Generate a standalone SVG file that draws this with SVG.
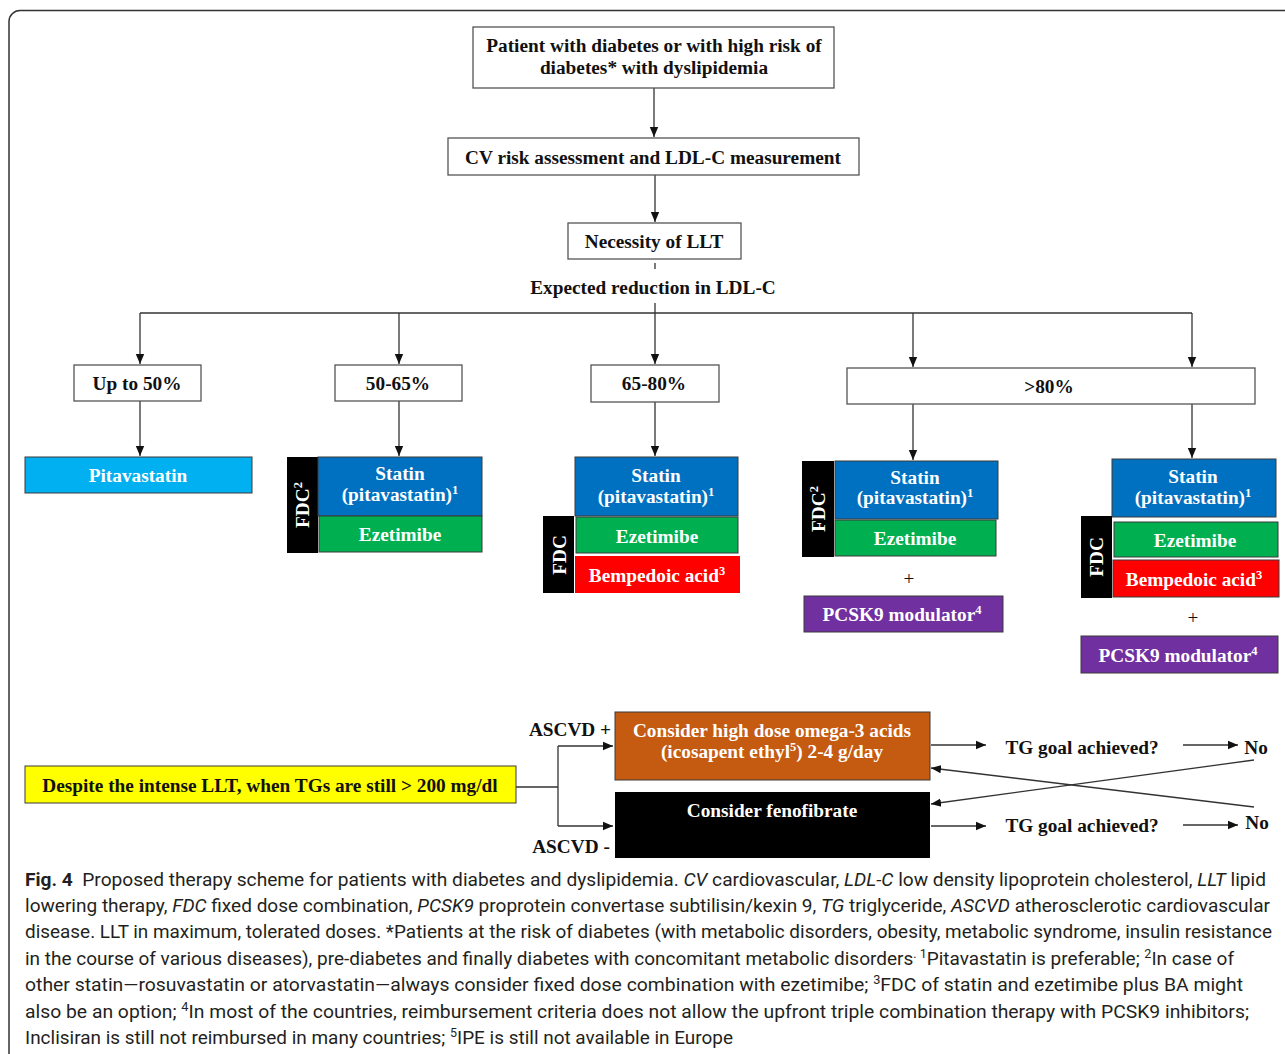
<svg xmlns="http://www.w3.org/2000/svg" width="1285" height="1054" viewBox="0 0 1285 1054">
<style>
.t{font-family:"Liberation Serif","Times New Roman",serif;font-weight:bold;font-size:19.3px;fill:#111;text-anchor:middle}
.w{fill:#fff}
.box{fill:#fff;stroke:#555;stroke-width:1.3}
.cb{stroke:#3a3a3a;stroke-width:1}
.ln{stroke:#333;stroke-width:1.3;fill:none}
.ar{stroke:#333;stroke-width:1.3;fill:none;marker-end:url(#ah)}
.cap{font-family:Roboto,"Noto Sans",sans-serif;font-size:19px;fill:#231f20}
.sup{font-size:12.5px}
</style>
<defs>
<marker id="ah" markerUnits="userSpaceOnUse" markerWidth="10" markerHeight="10" refX="10" refY="5" orient="auto">
<path d="M0,0.8 L10,5 L0,9.2 z" fill="#111"/>
</marker>
</defs>
<rect x="9" y="10.5" width="1400" height="1200" rx="11" fill="none" stroke="#333" stroke-width="1.5"/>

<g id="connectors">
<line class="ar" x1="654" y1="88" x2="654" y2="137"/>
<line class="ar" x1="655" y1="175" x2="655" y2="222"/>
<line class="ln" x1="655" y1="263" x2="655" y2="269"/>
<line class="ln" x1="655" y1="303" x2="655" y2="313"/>
<line class="ln" x1="140" y1="313" x2="1192" y2="313"/>
<line class="ar" x1="140" y1="313" x2="140" y2="364"/>
<line class="ar" x1="399" y1="313" x2="399" y2="364"/>
<line class="ar" x1="655" y1="313" x2="655" y2="364"/>
<line class="ar" x1="913" y1="313" x2="913" y2="367"/>
<line class="ar" x1="1192" y1="313" x2="1192" y2="367"/>
<line class="ar" x1="140" y1="401" x2="140" y2="456"/>
<line class="ar" x1="399" y1="401" x2="399" y2="456"/>
<line class="ar" x1="655" y1="402" x2="655" y2="456"/>
<line class="ar" x1="913" y1="404" x2="913" y2="460"/>
<line class="ar" x1="1192" y1="404" x2="1192" y2="458"/>
<path class="ln" d="M516,787 H558 M558,746 V826"/>
<line class="ar" x1="558" y1="746" x2="613" y2="746"/>
<line class="ar" x1="558" y1="826" x2="613" y2="826"/>
<line class="ar" x1="931" y1="745" x2="986" y2="745"/>
<line class="ar" x1="1183" y1="745" x2="1238" y2="745"/>
<line class="ar" x1="931" y1="826" x2="986" y2="826"/>
<line class="ar" x1="1183" y1="825" x2="1238" y2="825"/>
<line class="ar" x1="1254" y1="760" x2="931" y2="804"/>
<line class="ar" x1="1254" y1="807" x2="931" y2="768"/>
</g>

<g id="n-patient">
<rect class="box" x="473" y="27" width="361" height="61"/>
<text class="t" x="654" y="52">Patient with diabetes or with high risk of</text>
<text class="t" x="654" y="74">diabetes* with dyslipidemia</text>
</g>
<g id="n-cv">
<rect class="box" x="448" y="138" width="411" height="37"/>
<text class="t" x="653" y="164">CV risk assessment and LDL-C measurement</text>
</g>
<g id="n-llt">
<rect class="box" x="568" y="223" width="173" height="36"/>
<text class="t" x="654" y="248">Necessity of LLT</text>
</g>
<g id="n-expected">
<text class="t" x="653" y="294">Expected reduction in LDL-C</text>
</g>

<g id="n-up50">
<rect class="box" x="74" y="365" width="127" height="36"/>
<text class="t" x="137" y="390">Up to 50%</text>
</g>
<g id="n-50-65">
<rect class="box" x="335" y="365" width="127" height="36"/>
<text class="t" x="398" y="390">50-65%</text>
</g>
<g id="n-65-80">
<rect class="box" x="591" y="365" width="128" height="37"/>
<text class="t" x="654" y="390">65-80%</text>
</g>
<g id="n-80">
<rect class="box" x="847" y="368" width="408" height="36"/>
<text class="t" x="1049" y="393">&gt;80%</text>
</g>

<g id="n-pita">
<rect class="cb" x="25" y="457" width="227" height="36" fill="#00B0F0"/>
<text class="t w" x="138" y="482">Pitavastatin</text>
</g>

<g id="n-combo1">
<rect x="287" y="457" width="31" height="96" fill="#000"/>
<text class="t w" transform="translate(309,505) rotate(-90)">FDC<tspan class="sup" dy="-7">2</tspan></text>
<rect class="cb" x="318" y="457" width="164" height="59" fill="#0070C0"/>
<text class="t w" x="400" y="480">Statin</text>
<text class="t w" x="400" y="501">(pitavastatin)<tspan class="sup" dy="-7">1</tspan></text>
<rect class="cb" x="319" y="516" width="163" height="36" fill="#00B050"/>
<text class="t w" x="400" y="541">Ezetimibe</text>
</g>

<g id="n-combo2">
<rect class="cb" x="575" y="457" width="163" height="59" fill="#0070C0"/>
<text class="t w" x="656" y="482">Statin</text>
<text class="t w" x="656" y="503">(pitavastatin)<tspan class="sup" dy="-7">1</tspan></text>
<rect x="543" y="516" width="31" height="77" fill="#000"/>
<text class="t w" transform="translate(566,555) rotate(-90)">FDC</text>
<rect class="cb" x="576" y="517" width="162" height="36" fill="#00B050"/>
<text class="t w" x="657" y="543">Ezetimibe</text>
<rect x="575" y="556" width="165" height="37" fill="#FF0000"/>
<text class="t w" x="657" y="582">Bempedoic acid<tspan class="sup" dy="-7">3</tspan></text>
</g>

<g id="n-combo3">
<rect x="802" y="461" width="32" height="96" fill="#000"/>
<text class="t w" transform="translate(825,509) rotate(-90)">FDC<tspan class="sup" dy="-7">2</tspan></text>
<rect class="cb" x="835" y="461" width="163" height="58" fill="#0070C0"/>
<text class="t w" x="915" y="484">Statin</text>
<text class="t w" x="915" y="504">(pitavastatin)<tspan class="sup" dy="-7">1</tspan></text>
<rect class="cb" x="835" y="520" width="161" height="36" fill="#00B050"/>
<text class="t w" x="915" y="545">Ezetimibe</text>
<text class="t" x="909" y="585" style="font-weight:normal">+</text>
<rect class="cb" x="804" y="596" width="199" height="36" fill="#7030A0"/>
<text class="t w" x="902" y="621">PCSK9 modulator<tspan class="sup" dy="-7">4</tspan></text>
</g>

<g id="n-combo4">
<rect class="cb" x="1112" y="459" width="164" height="58" fill="#0070C0"/>
<text class="t w" x="1193" y="483">Statin</text>
<text class="t w" x="1193" y="504">(pitavastatin)<tspan class="sup" dy="-7">1</tspan></text>
<rect x="1081" y="516" width="31" height="82" fill="#000"/>
<text class="t w" transform="translate(1103,557) rotate(-90)">FDC</text>
<rect class="cb" x="1114" y="522" width="164" height="35" fill="#00B050"/>
<text class="t w" x="1195" y="547">Ezetimibe</text>
<rect class="cb" x="1113" y="560" width="166" height="37" fill="#FF0000"/>
<text class="t w" x="1194" y="586">Bempedoic acid<tspan class="sup" dy="-7">3</tspan></text>
<text class="t" x="1193" y="624" style="font-weight:normal">+</text>
<rect class="cb" x="1081" y="636" width="197" height="37" fill="#7030A0"/>
<text class="t w" x="1178" y="662">PCSK9 modulator<tspan class="sup" dy="-7">4</tspan></text>
</g>

<g id="n-tg">
<rect class="cb" x="25" y="766" width="491" height="37" fill="#FFFF00"/>
<text class="t" x="270" y="792">Despite the intense LLT, when TGs are still &gt; 200 mg/dl</text>
</g>
<g id="n-ascvd-plus"><text class="t" x="570" y="736">ASCVD +</text></g>
<g id="n-ascvd-minus"><text class="t" x="571" y="853">ASCVD -</text></g>

<g id="n-omega">
<rect class="cb" x="615" y="712" width="315" height="68" fill="#C55A11"/>
<text class="t w" x="772" y="737">Consider high dose omega-3 acids</text>
<text class="t w" x="772" y="758">(icosapent ethyl<tspan class="sup" dy="-7">5</tspan><tspan dy="7">) 2-4 g/day</tspan></text>
</g>
<g id="n-feno">
<rect x="615" y="792" width="315" height="66" fill="#000"/>
<text class="t w" x="772" y="817">Consider fenofibrate</text>
</g>
<g id="n-goal1"><text class="t" x="1082" y="754">TG goal achieved?</text></g>
<g id="n-no1"><text class="t" x="1256" y="754">No</text></g>
<g id="n-goal2"><text class="t" x="1082" y="832">TG goal achieved?</text></g>
<g id="n-no2"><text class="t" x="1257" y="829">No</text></g>

<g id="caption">
<text class="cap" x="25" y="886" textLength="1241" lengthAdjust="spacingAndGlyphs"><tspan font-weight="bold">Fig. 4</tspan>&#160;&#160;Proposed therapy scheme for patients with diabetes and dyslipidemia. <tspan font-style="italic">CV</tspan> cardiovascular, <tspan font-style="italic">LDL-C</tspan> low density lipoprotein cholesterol, <tspan font-style="italic">LLT</tspan> lipid</text>
<text class="cap" x="25" y="912" textLength="1245" lengthAdjust="spacingAndGlyphs">lowering therapy, <tspan font-style="italic">FDC</tspan> fixed dose combination, <tspan font-style="italic">PCSK9</tspan> proprotein convertase subtilisin/kexin 9, <tspan font-style="italic">TG</tspan> triglyceride, <tspan font-style="italic">ASCVD</tspan> atherosclerotic cardiovascular</text>
<text class="cap" x="25" y="938" textLength="1247" lengthAdjust="spacingAndGlyphs">disease. LLT in maximum, tolerated doses. *Patients at the risk of diabetes (with metabolic disorders, obesity, metabolic syndrome, insulin resistance</text>
<text class="cap" x="25" y="965" textLength="1209" lengthAdjust="spacingAndGlyphs">in the course of various diseases), pre-diabetes and finally diabetes with concomitant metabolic disorders<tspan class="sup" dy="-7">. 1</tspan><tspan dy="7">Pitavastatin is preferable; </tspan><tspan class="sup" dy="-7">2</tspan><tspan dy="7">In case of</tspan></text>
<text class="cap" x="25" y="991" textLength="1218" lengthAdjust="spacingAndGlyphs">other statin—rosuvastatin or atorvastatin—always consider fixed dose combination with ezetimibe; <tspan class="sup" dy="-7">3</tspan><tspan dy="7">FDC of statin and ezetimibe plus BA might</tspan></text>
<text class="cap" x="25" y="1018" textLength="1224" lengthAdjust="spacingAndGlyphs">also be an option; <tspan class="sup" dy="-7">4</tspan><tspan dy="7">In most of the countries, reimbursement criteria does not allow the upfront triple combination therapy with PCSK9 inhibitors;</tspan></text>
<text class="cap" x="25" y="1044" textLength="708" lengthAdjust="spacingAndGlyphs">Inclisiran is still not reimbursed in many countries; <tspan class="sup" dy="-7">5</tspan><tspan dy="7">IPE is still not available in Europe</tspan></text>
</g>
</svg>
